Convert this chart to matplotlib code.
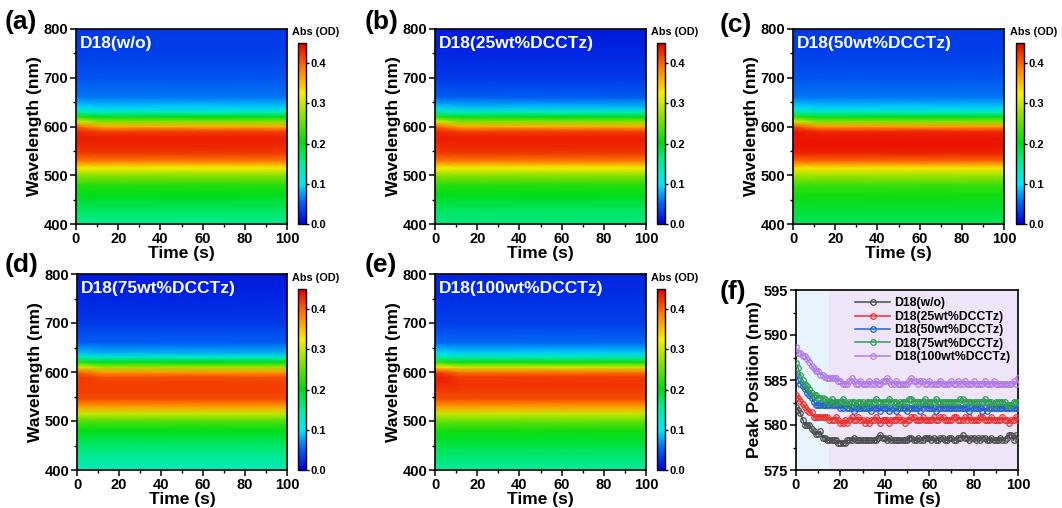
import numpy as np
import matplotlib.pyplot as plt
from matplotlib.colors import LinearSegmentedColormap
from matplotlib.ticker import MultipleLocator

plt.rcParams['font.family'] = ['Liberation Sans', 'DejaVu Sans']
plt.rcParams['font.weight'] = 'bold'
plt.rcParams['axes.labelweight'] = 'bold'

W, H = 1062, 508

# ---- absorption maps: profile at t=0 and after settling (t >= 12 s) ----
wavelength = [400, 430, 460, 480, 500, 515, 530, 545, 560, 575,
              590, 600, 610, 620, 630, 640, 660, 700, 750, 800]
map_times = [0, 12, 100]

samples = ["D18(w/o)", "D18(25wt%DCCTz)", "D18(50wt%DCCTz)",
           "D18(75wt%DCCTz)", "D18(100wt%DCCTz)"]
panel_tags = ["(a)", "(b)", "(c)", "(d)", "(e)"]

abs_late = [
    [0.155, 0.175, 0.20, 0.22, 0.27, 0.32, 0.39, 0.42, 0.43, 0.435,
     0.42, 0.36, 0.27, 0.20, 0.13, 0.09, 0.06, 0.045, 0.035, 0.03],
    [0.16, 0.175, 0.20, 0.22, 0.27, 0.32, 0.39, 0.42, 0.43, 0.435,
     0.42, 0.36, 0.27, 0.20, 0.13, 0.085, 0.05, 0.03, 0.02, 0.015],
    [0.175, 0.19, 0.21, 0.23, 0.28, 0.33, 0.40, 0.43, 0.44, 0.44,
     0.43, 0.37, 0.27, 0.20, 0.13, 0.09, 0.06, 0.045, 0.035, 0.03],
    [0.135, 0.155, 0.18, 0.20, 0.24, 0.30, 0.37, 0.41, 0.42, 0.42,
     0.41, 0.37, 0.28, 0.20, 0.13, 0.08, 0.05, 0.03, 0.02, 0.015],
    [0.15, 0.17, 0.19, 0.21, 0.25, 0.30, 0.37, 0.41, 0.42, 0.425,
     0.42, 0.39, 0.30, 0.21, 0.14, 0.09, 0.055, 0.035, 0.025, 0.02],
]
abs_early = [
    [0.155, 0.175, 0.20, 0.22, 0.27, 0.32, 0.39, 0.42, 0.43, 0.435,
     0.43, 0.40, 0.31, 0.22, 0.14, 0.095, 0.06, 0.045, 0.035, 0.03],
    [0.16, 0.175, 0.20, 0.22, 0.27, 0.32, 0.39, 0.42, 0.43, 0.435,
     0.43, 0.40, 0.31, 0.22, 0.14, 0.09, 0.05, 0.03, 0.02, 0.015],
    [0.175, 0.19, 0.21, 0.23, 0.28, 0.33, 0.40, 0.43, 0.44, 0.44,
     0.44, 0.41, 0.31, 0.22, 0.14, 0.095, 0.06, 0.045, 0.035, 0.03],
    [0.135, 0.155, 0.18, 0.20, 0.24, 0.30, 0.37, 0.41, 0.42, 0.42,
     0.42, 0.40, 0.31, 0.22, 0.14, 0.085, 0.05, 0.03, 0.02, 0.015],
    [0.15, 0.17, 0.19, 0.21, 0.25, 0.30, 0.37, 0.41, 0.42, 0.43,
     0.44, 0.42, 0.33, 0.23, 0.15, 0.095, 0.055, 0.035, 0.025, 0.02],
]

# ---- peak position vs time (1 s steps) ----
t_peak = np.arange(0, 101)
peak_wo = [
    582.0, 581.7, 581.3, 580.6, 580.0, 580.0, 580.0, 579.6, 579.3, 579.0,
    579.0, 579.3, 578.6, 578.6, 578.3, 578.3, 578.3, 578.3, 578.3, 578.0,
    578.0, 578.0, 578.0, 578.3, 578.3, 578.3, 578.6, 578.3, 578.3, 578.3,
    578.3, 578.3, 578.3, 578.3, 578.3, 578.3, 578.3, 578.6, 578.9, 578.6,
    578.6, 578.3, 578.6, 578.3, 578.3, 578.3, 578.3, 578.3, 578.3, 578.3,
    578.3, 578.6, 578.6, 578.3, 578.3, 578.6, 578.3, 578.3, 578.6, 578.6,
    578.6, 578.3, 578.6, 578.3, 578.3, 578.6, 578.6, 578.3, 578.3, 578.6,
    578.6, 578.3, 578.3, 578.6, 578.6, 578.9, 578.6, 578.6, 578.3, 578.6,
    578.6, 578.3, 578.6, 578.3, 578.6, 578.6, 578.3, 578.3, 578.6, 578.3,
    578.3, 578.3, 578.6, 578.3, 578.3, 578.6, 578.9, 578.9, 578.3, 578.9, 578.3]
peak_25 = [
    583.3, 583.0, 582.7, 582.3, 582.0, 581.7, 581.4, 581.4, 580.9, 580.9,
    580.9, 580.9, 580.9, 580.9, 580.9, 580.6, 580.6, 580.6, 580.9, 580.6,
    580.2, 580.2, 580.6, 580.2, 580.6, 580.9, 580.6, 580.6, 580.9, 580.6,
    580.6, 580.2, 580.6, 580.2, 580.6, 580.6, 580.9, 580.6, 580.2, 580.6,
    580.6, 580.6, 580.2, 580.6, 580.6, 580.6, 580.9, 580.6, 580.6, 580.2,
    580.6, 580.6, 580.9, 580.9, 580.6, 580.6, 580.6, 580.9, 580.6, 580.6,
    580.6, 580.6, 580.9, 580.6, 580.6, 580.9, 580.9, 580.6, 580.6, 580.6,
    580.6, 580.9, 580.9, 580.6, 580.6, 580.6, 580.9, 580.6, 580.9, 580.6,
    580.6, 580.6, 580.6, 580.9, 580.9, 580.6, 580.6, 580.6, 580.9, 580.6,
    580.6, 580.6, 580.6, 580.9, 580.6, 580.6, 580.2, 580.6, 580.6, 580.9, 580.6]
peak_50 = [
    585.6, 585.0, 584.6, 584.3, 584.0, 583.6, 583.3, 583.0, 582.6, 582.2,
    582.2, 582.2, 582.2, 582.2, 582.2, 582.2, 582.2, 582.2, 582.2, 582.2,
    581.9, 581.9, 582.2, 581.9, 581.9, 581.9, 581.6, 581.9, 581.9, 581.9,
    581.9, 581.9, 581.9, 581.9, 581.6, 581.9, 581.9, 581.9, 581.6, 581.9,
    581.9, 581.9, 581.6, 581.9, 581.9, 581.6, 581.9, 581.9, 581.9, 581.9,
    581.6, 581.9, 581.9, 581.9, 581.9, 581.9, 581.6, 581.9, 582.2, 581.9,
    581.9, 581.9, 581.9, 581.6, 581.9, 581.9, 581.9, 581.9, 581.9, 581.9,
    581.9, 581.9, 581.9, 581.9, 581.9, 581.9, 581.9, 581.9, 581.6, 581.9,
    581.9, 581.9, 581.9, 581.9, 581.6, 581.9, 581.6, 581.9, 581.9, 581.9,
    581.9, 581.9, 581.9, 581.9, 581.9, 581.9, 581.9, 581.9, 581.9, 581.9, 581.9]
peak_75 = [
    586.9, 586.3, 585.6, 585.0, 584.6, 584.3, 584.0, 583.6, 583.3, 583.3,
    583.0, 583.0, 583.0, 582.9, 582.6, 582.6, 582.9, 582.6, 582.6, 582.6,
    582.6, 582.9, 582.6, 582.2, 582.6, 582.6, 582.6, 582.2, 582.6, 582.6,
    582.6, 582.2, 582.6, 582.6, 582.6, 582.6, 582.9, 582.6, 582.6, 582.6,
    582.6, 582.6, 582.9, 582.6, 582.6, 582.6, 582.2, 582.6, 582.6, 582.6,
    582.6, 582.9, 582.9, 582.6, 582.6, 582.6, 582.6, 582.6, 582.9, 582.6,
    582.6, 582.6, 582.6, 582.9, 582.6, 582.6, 582.6, 582.6, 582.6, 582.6,
    582.6, 582.6, 582.6, 582.6, 582.9, 582.9, 582.6, 582.6, 582.6, 582.6,
    582.6, 582.6, 582.6, 582.6, 582.6, 582.9, 582.6, 582.6, 582.6, 582.2,
    582.6, 582.6, 582.6, 582.6, 582.6, 582.2, 582.2, 582.2, 582.6, 582.6, 582.6]
peak_100 = [
    588.7, 588.0, 588.0, 587.7, 587.7, 587.3, 587.0, 586.6, 586.3, 586.0,
    586.0, 585.6, 585.6, 585.3, 585.2, 585.2, 585.2, 585.2, 585.2, 584.9,
    584.9, 584.6, 584.6, 584.6, 584.9, 585.2, 584.9, 584.6, 584.6, 584.9,
    584.6, 584.6, 584.6, 584.9, 584.6, 584.6, 584.9, 584.6, 584.6, 584.9,
    584.9, 585.2, 584.9, 584.6, 584.6, 584.9, 584.6, 584.6, 584.6, 584.6,
    584.6, 584.9, 585.2, 584.9, 584.9, 584.6, 584.9, 584.9, 584.6, 584.6,
    584.9, 584.6, 584.6, 584.6, 584.6, 584.9, 584.6, 584.6, 584.6, 584.6,
    584.9, 584.6, 584.6, 584.9, 584.6, 584.6, 584.9, 584.6, 584.6, 584.6,
    584.9, 584.6, 584.6, 584.6, 584.6, 584.9, 584.6, 584.6, 584.6, 584.9,
    584.6, 584.6, 584.6, 584.6, 584.6, 584.6, 584.6, 584.6, 584.9, 584.6, 585.2]
peak_series = [peak_wo, peak_25, peak_50, peak_75, peak_100]
line_colors = ["#4d4d4d", "#e8312f", "#2463c9", "#2f9e55", "#b27ce6"]

# rainbow map: blue -> cyan -> green -> yellow -> red
cmap = LinearSegmentedColormap.from_list("abs_rainbow", [
    (0.00, "#0000d8"), (0.12, "#0066f4"), (0.22, "#00e6f8"),
    (0.34, "#00ec98"), (0.45, "#00dc10"), (0.60, "#8ee000"),
    (0.72, "#f8ee00"), (0.86, "#ff7e00"), (1.00, "#e60000")])


def rect(x0, y0, x1, y1):
    return [x0 / W, 1 - y1 / H, (x1 - x0) / W, (y1 - y0) / H]


def style_axis(ax):
    for s in ax.spines.values():
        s.set_linewidth(1.2)
    ax.tick_params(which='major', direction='out', length=4, width=1.1,
                   labelsize=10.5, pad=1.5)
    ax.tick_params(which='minor', direction='out', length=2.2, width=1)
    for lab in ax.get_xticklabels() + ax.get_yticklabels():
        lab.set_fontweight('bold')


fig = plt.figure(figsize=(W / 100, H / 100), dpi=100)

map_boxes = [(76, 29, 287, 224), (435, 29, 646, 224), (793, 29, 1004, 224),
             (77, 274, 287, 470), (435, 274, 646, 470)]
cbar_boxes = [(298, 43, 306, 224), (657, 43, 665, 224), (1016, 43, 1024, 224),
              (298, 289, 306, 470), (657, 289, 665, 470)]
tag_pos = [(5, 22), (365, 22), (720, 25), (5, 265), (365, 265)]

T, WL = np.meshgrid(map_times, wavelength)
for i in range(5):
    ax = fig.add_axes(rect(*map_boxes[i]))
    Z = np.column_stack([abs_early[i], abs_late[i], abs_late[i]])
    mesh = ax.pcolormesh(T, WL, Z, shading='gouraud', cmap=cmap,
                         vmin=0, vmax=0.45)
    ax.set_xlim(0, 100)
    ax.set_ylim(400, 800)
    ax.set_xticks(range(0, 101, 20))
    ax.set_yticks(range(400, 801, 100))
    ax.xaxis.set_minor_locator(MultipleLocator(10))
    ax.yaxis.set_minor_locator(MultipleLocator(50))
    ax.set_xlabel("Time (s)", fontsize=12.5, labelpad=0)
    ax.set_ylabel("Wavelength (nm)", fontsize=12.5, labelpad=1)
    style_axis(ax)
    ax.text(0.02, 0.925, samples[i], transform=ax.transAxes, color='white',
            fontsize=12.5, fontweight='bold', va='center', ha='left')

    cax = fig.add_axes(rect(*cbar_boxes[i]))
    cb = fig.colorbar(mesh, cax=cax, ticks=[0, 0.1, 0.2, 0.3, 0.4])
    cb.ax.set_yticklabels(["0.0", "0.1", "0.2", "0.3", "0.4"])
    cb.outline.set_linewidth(1)
    cb.ax.tick_params(direction='out', length=2.5, width=1, labelsize=8, pad=1)
    cb.ax.minorticks_off()
    for lab in cb.ax.get_yticklabels():
        lab.set_fontweight('bold')
    x0, y0, x1, y1 = cbar_boxes[i]
    fig.text((x0 + 18) / W, 1 - (y0 - 11) / H, "Abs (OD)", fontsize=7.8,
             fontweight='bold', ha='center', va='center')

    fig.text(tag_pos[i][0] / W, 1 - tag_pos[i][1] / H, panel_tags[i],
             fontsize=19, fontweight='bold', ha='left', va='center')

# ---- (f) peak position ----
axf = fig.add_axes(rect(796, 290, 1018, 470))
axf.axvspan(0, 15, color="#e8f4fc", zorder=0, lw=0)
axf.axvspan(15, 100, color="#efe5f9", zorder=0, lw=0)
for name, vals, col in zip(samples, peak_series, line_colors):
    axf.plot(t_peak, vals, '-o', color=col, lw=1.1, ms=4, mfc='none',
             mew=0.9, label=name, zorder=3)
axf.set_xlim(0, 100)
axf.set_ylim(575, 595)
axf.set_xticks(range(0, 101, 20))
axf.set_yticks(range(575, 596, 5))
axf.xaxis.set_minor_locator(MultipleLocator(10))
axf.yaxis.set_minor_locator(MultipleLocator(2.5))
axf.set_xlabel("Time (s)", fontsize=12.5, labelpad=0)
axf.set_ylabel("Peak Position (nm)", fontsize=12.5, labelpad=1)
style_axis(axf)
leg = axf.legend(loc='upper right', frameon=False, fontsize=8.8,
                 handlelength=2.8, labelspacing=0.12, borderaxespad=0.2,
                 handletextpad=0.4)
for txt in leg.get_texts():
    txt.set_fontweight('bold')
fig.text(720 / W, 1 - 292 / H, "(f)", fontsize=19, fontweight='bold',
         ha='left', va='center')

fig.savefig("out.png", dpi=100)
